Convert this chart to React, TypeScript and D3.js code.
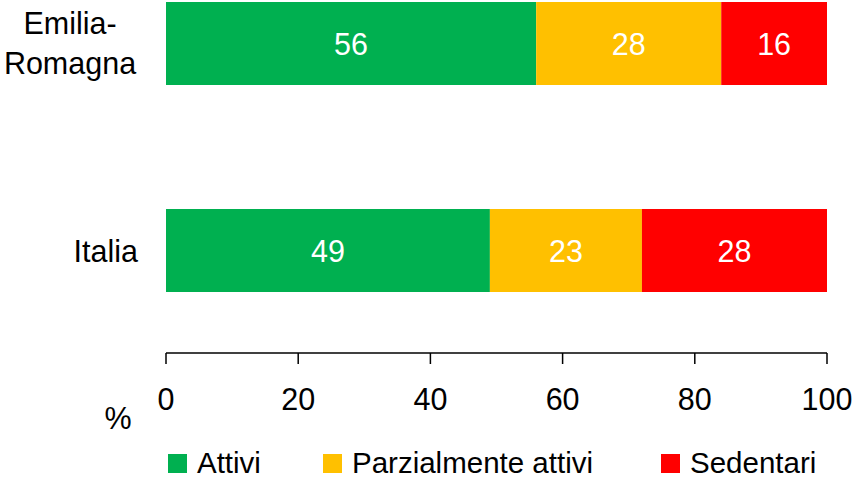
import React from "react";
import * as d3 from "d3";

const categories = ["Emilia-Romagna", "Italia"];
const categoryLines = [["Emilia-", "Romagna"], ["Italia"]];
const seriesNames = ["Attivi", "Parzialmente attivi", "Sedentari"];
const attivi = [56, 49];
const parzialmente = [28, 23];
const sedentari = [16, 28];
const ticks = [0, 20, 40, 60, 80, 100];
const colors = ["#00B050", "#FFC000", "#FF0000"];

const W = 855;
const H = 479;
const FONT = "'Liberation Sans', Arial, sans-serif";
const FS = 30.5;

const App = () => {
  const rows = categories.map((c, i) => ({
    cat: c,
    Attivi: attivi[i],
    "Parzialmente attivi": parzialmente[i],
    Sedentari: sedentari[i],
  }));
  const stacked = d3.stack<any>().keys(seriesNames)(rows);

  const x = d3.scaleLinear().domain([0, 100]).range([166, 827]);
  const y = d3.scalePoint<string>().domain(categories).range([43.5, 250.5]);
  const barH = 83;
  const axisY = 353;

  // legend square x positions
  const legendX = [168, 323, 661];

  return (
    <svg
      width={W}
      height={H}
      style={{ position: "absolute", left: 0, top: 0, background: "#fff" }}
      fontFamily={FONT}
    >
      {stacked.map((layer, si) => (
        <g key={layer.key}>
          {layer.map((d, i) => {
            const x0 = x(d[0]);
            const x1 = x(d[1]);
            const cy = y(categories[i]) as number;
            return (
              <g key={i}>
                <rect x={x0} y={cy - barH / 2} width={x1 - x0} height={barH} fill={colors[si]} />
                <text x={(x0 + x1) / 2} y={cy + 11} textAnchor="middle" fontSize={FS} fill="#fff">
                  {d[1] - d[0]}
                </text>
              </g>
            );
          })}
        </g>
      ))}

      {/* category labels */}
      {categories.map((c, i) => {
        const cy = y(c) as number;
        const lines = categoryLines[i];
        const lh = 40;
        if (lines.length === 1) {
          return (
            <text key={c} x={138} y={cy + 11} textAnchor="end" fontSize={FS} fill="#000">
              {lines[0]}
            </text>
          );
        }
        return (
          <text key={c} x={70} textAnchor="middle" fontSize={FS} fill="#000">
            {lines.map((l, j) => (
              <tspan key={j} x={70} y={cy + 10 - ((lines.length - 1) * lh) / 2 + j * lh}>
                {l}
              </tspan>
            ))}
          </text>
        );
      })}

      {/* x axis */}
      <line x1={x(0)} x2={x(100)} y1={axisY} y2={axisY} stroke="#000" strokeWidth={1.5} />
      {ticks.map((t) => (
        <g key={t}>
          <line x1={x(t)} x2={x(t)} y1={axisY} y2={axisY + 11} stroke="#000" strokeWidth={1.5} />
          <text x={x(t)} y={410} textAnchor="middle" fontSize={FS} fill="#000">
            {t}
          </text>
        </g>
      ))}
      <text x={118} y={429} textAnchor="middle" fontSize={FS} fill="#000">
        %
      </text>

      {/* legend */}
      {seriesNames.map((s, i) => (
        <g key={s}>
          <rect x={legendX[i]} y={454} width={19} height={19} fill={colors[i]} />
          <text x={legendX[i] + 29} y={473} fontSize={29.5} fill="#000">
            {s}
          </text>
        </g>
      ))}
    </svg>
  );
};

export default App;
